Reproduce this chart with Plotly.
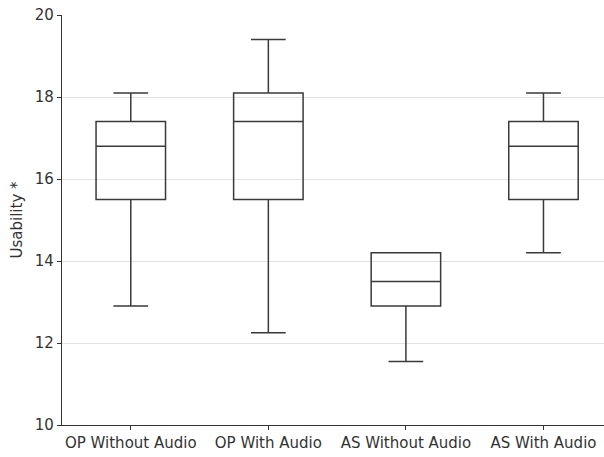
import plotly.graph_objects as go

categories = ["OP Without Audio", "OP With Audio", "AS Without Audio", "AS With Audio"]
lower = [12.9, 12.25, 11.55, 14.2]
q1 = [15.5, 15.5, 12.9, 15.5]
median = [16.8, 17.4, 13.5, 16.8]
q3 = [17.4, 18.1, 14.2, 17.4]
upper = [18.1, 19.4, 14.2, 18.1]
y_ticks = [10, 12, 14, 16, 18, 20]

fig = go.Figure()
fig.add_trace(go.Box(
    x=categories,
    q1=q1, median=median, q3=q3,
    lowerfence=lower, upperfence=upper,
    width=0.505,
    whiskerwidth=0.5,
    fillcolor="rgba(0,0,0,0)",
    line=dict(color="#3a3a3a", width=1.5),
    boxpoints=False,
    showlegend=False,
    hoverinfo="skip",
))

fig.update_layout(
    width=604, height=457,
    margin=dict(l=62, r=0, t=15, b=32),
    paper_bgcolor="white", plot_bgcolor="white",
    font=dict(family="DejaVu Sans", size=15, color="#333333"),
    xaxis=dict(
        type="category",
        range=[-0.5, 3.44],
        showline=True, linecolor="#333333", linewidth=1.2,
        ticks="outside", ticklen=4, tickcolor="#333333",
        showgrid=False, zeroline=False,
        tickfont=dict(size=15, color="#333333"),
    ),
    yaxis=dict(
        range=[10, 20],
        tickvals=y_ticks,
        showline=True, linecolor="#333333", linewidth=1.2,
        ticks="outside", ticklen=4, tickcolor="#333333",
        showgrid=True, gridcolor="#e2e2e2", gridwidth=1,
        zeroline=False,
        title=dict(text="Usability *", font=dict(size=15, color="#333333"), standoff=8),
        tickfont=dict(size=15, color="#333333"),
    ),
)

fig.write_html("out.html", config={"displayModeBar": False},
               post_script="document.body.style.margin='0';")
